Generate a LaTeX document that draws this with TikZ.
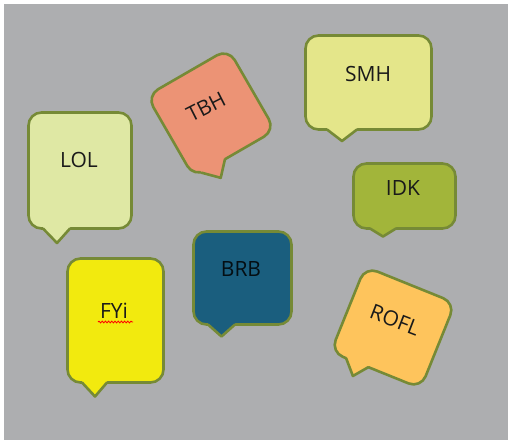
\documentclass[tikz,border=0pt]{standalone}
\usepackage{fontspec}
\setmainfont{Open Sans}
\usetikzlibrary{decorations.pathmorphing}
\definecolor{bggray}{HTML}{ADAEB0}
\definecolor{edgegreen}{HTML}{768A36}
\definecolor{lolfill}{HTML}{DFE8A4}
\definecolor{smhfill}{HTML}{E4E68A}
\definecolor{tbhfill}{HTML}{EC9375}
\definecolor{idkfill}{HTML}{A2B53A}
\definecolor{brbfill}{HTML}{1A5E7E}
\definecolor{fyifill}{HTML}{F2EA0E}
\definecolor{roflfill}{HTML}{FEC45C}
\definecolor{txt}{HTML}{1A1A1A}
\newcommand\speechbubble[9]{%
  % #1 fill, #2 x1, #3 y1, #4 x2, #5 y2, #6 tail left, #7 tail right, #8 tip x, #9 tip y
  \draw[bubbleedge, fill=#1, rounded corners=13pt] (#2,#3) rectangle (#4,#5);
  \fill[#1] (#6,#5-3) -- (#6,#5) -- (#8,#9) -- (#7,#5) -- (#7,#5-3) -- cycle;
  \draw[bubbleedge, line cap=round] (#6,#5) -- (#8,#9) -- (#7,#5);
}
\begin{document}
\begin{tikzpicture}[x=1pt,y=-1pt,
  bubbleedge/.style={draw=edgegreen, line width=2.6pt, line join=round},
  label/.style={text=txt, font=\fontsize{21}{25}\selectfont, inner sep=0pt}]
\useasboundingbox (0,0) rectangle (509,441);
\fill[white] (0,0) rectangle (509,441);
\fill[bggray] (4,4) rectangle (508,440);

% LOL
\speechbubble{lolfill}{28.5}{112.5}{131.5}{228.5}{43}{70}{57}{243}
\node[label] (lol) at (79,160) {LOL};

% SMH
\speechbubble{smhfill}{305.5}{35.5}{431.5}{129.5}{327}{357}{342}{141}
\node[label] (smh) at (368,74) {SMH};

% IDK
\speechbubble{idkfill}{353.5}{163.5}{455.5}{228.5}{370}{396}{383}{236.5}
\node[label] (idk) at (403,188) {IDK};

% BRB
\speechbubble{brbfill}{193.5}{231.5}{291.5}{324.5}{208}{235}{221.5}{336.5}
\node[label, text=black!85!brbfill] (brb) at (241,269) {BRB};

% FYi
\speechbubble{fyifill}{67.5}{258.5}{163.5}{382.5}{82}{107}{95}{396.5}
\node[label] (fyi) at (114,311) {FYi};
\draw[red, line width=0.8pt, decorate, decoration={snake, amplitude=0.9pt, segment length=3.2pt}] (98,322) -- (133,322);

% TBH
\begin{scope}[shift={(211,113)}, rotate=30]
\speechbubble{tbhfill}{-47}{-47}{47}{47}{-38}{-11}{-24}{61}
\end{scope}
\node[label, rotate=27] (tbh) at (206,107) {TBH};

% ROFL
\begin{scope}[shift={(393,327.5)}, rotate=-22]
\speechbubble{roflfill}{-48.5}{-46}{48.5}{46}{-32}{-8}{-19}{60}
\end{scope}
\node[label, rotate=-21] (rofl) at (395,320) {ROFL};
\end{tikzpicture}
\end{document}
